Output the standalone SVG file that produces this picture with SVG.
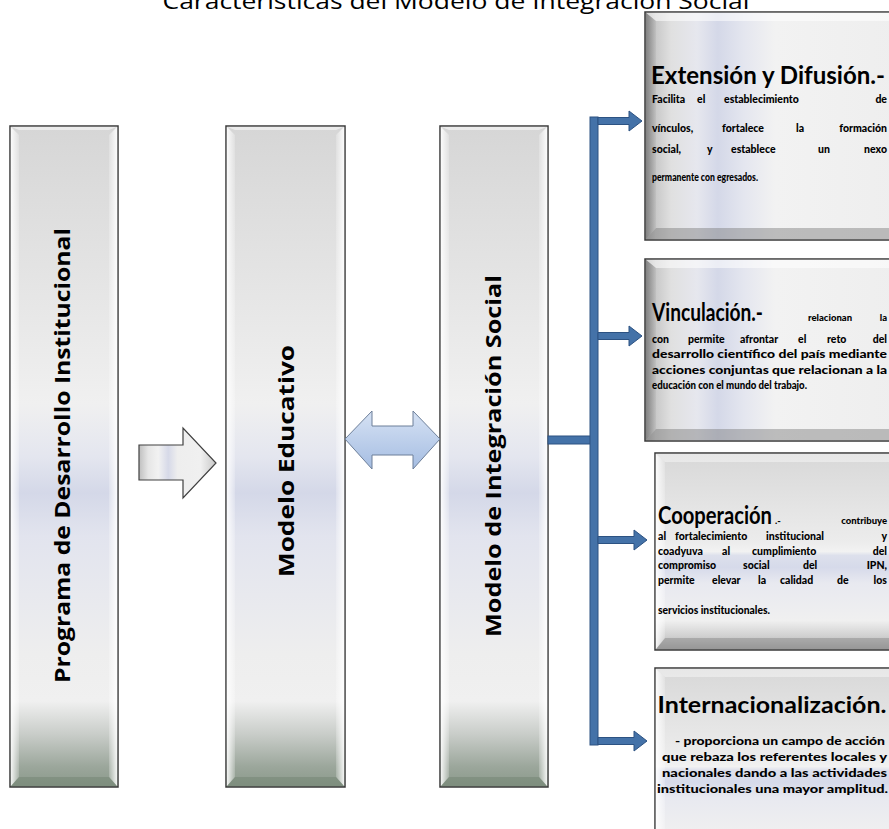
<svg xmlns="http://www.w3.org/2000/svg" width="889" height="829" viewBox="0 0 889 829">
<defs>
<style>
.bx{stroke:#3a3a3a;stroke-width:1.5}
.vt{font-family:"Open Sans","Liberation Sans",sans-serif;font-weight:700;font-size:22px;fill:#000}
.ti{font-family:"Open Sans","Liberation Sans",sans-serif;font-size:22px;fill:#000}
.h{font-family:Lato,"Liberation Sans",sans-serif;font-weight:700;fill:#000}
.b{font-family:Lato,"Liberation Sans",sans-serif;font-weight:900;font-size:10.5px;fill:#000}
.s{font-family:Lato,"Liberation Sans",sans-serif;font-weight:900;font-size:9.5px;fill:#000}
.e{text-anchor:end}
.bl{fill:#4472a8;stroke:#2c5282;stroke-width:1}
</style>
<linearGradient id="gV" x1="0" y1="0" x2="0" y2="1">
<stop offset="0" stop-color="#d6d6d6"/>
<stop offset="0.42" stop-color="#f0f0f0"/>
<stop offset="0.50" stop-color="#e4e6ef"/>
<stop offset="0.555" stop-color="#d4d8e8"/>
<stop offset="0.62" stop-color="#e2e4ee"/>
<stop offset="0.80" stop-color="#eeeeee"/>
<stop offset="0.87" stop-color="#f0f0f0"/>
<stop offset="0.92" stop-color="#c9cdc9"/>
<stop offset="0.97" stop-color="#9ba69b"/>
<stop offset="1" stop-color="#8a998a"/>
</linearGradient>
<linearGradient id="gC" x1="0" y1="0" x2="0" y2="1">
<stop offset="0" stop-color="#d8d8d8"/>
<stop offset="0.45" stop-color="#ececec"/>
<stop offset="0.50" stop-color="#f2f2f2"/>
<stop offset="0.52" stop-color="#dde0ec"/>
<stop offset="0.58" stop-color="#d6daea"/>
<stop offset="0.66" stop-color="#e8e9f0"/>
<stop offset="0.85" stop-color="#f0f0f0"/>
<stop offset="0.93" stop-color="#d0d0d0"/>
<stop offset="1" stop-color="#a8a8a8"/>
</linearGradient>
<linearGradient id="gH" x1="0" y1="0" x2="1" y2="0">
<stop offset="0" stop-color="#9c9c9c"/>
<stop offset="0.04" stop-color="#c8c8c8"/>
<stop offset="0.10" stop-color="#e0e0e0"/>
<stop offset="0.20" stop-color="#e6e7ee"/>
<stop offset="0.28" stop-color="#d4d8e8"/>
<stop offset="0.38" stop-color="#e4e6ef"/>
<stop offset="0.50" stop-color="#f2f2f2"/>
<stop offset="1" stop-color="#eeeeee"/>
</linearGradient>
<linearGradient id="gA" x1="0" y1="0" x2="1" y2="0">
<stop offset="0" stop-color="#bfbfbf"/>
<stop offset="0.12" stop-color="#e6e6e6"/>
<stop offset="0.25" stop-color="#f2f2f2"/>
<stop offset="0.38" stop-color="#d6d9e8"/>
<stop offset="0.50" stop-color="#eeeeee"/>
<stop offset="0.80" stop-color="#f0f0f0"/>
<stop offset="1" stop-color="#c8c8c8"/>
</linearGradient>
<linearGradient id="gD" x1="0" y1="0" x2="0" y2="1">
<stop offset="0" stop-color="#d6e2f4"/>
<stop offset="1" stop-color="#a5bde2"/>
</linearGradient>
<linearGradient id="gL" x1="0" y1="0" x2="1" y2="0">
<stop offset="0" stop-color="#ffffff" stop-opacity="0.9"/>
<stop offset="1" stop-color="#ffffff" stop-opacity="0.2"/>
</linearGradient>
<linearGradient id="gR" x1="0" y1="0" x2="1" y2="0">
<stop offset="0" stop-color="#ffffff" stop-opacity="0.2"/>
<stop offset="1" stop-color="#ffffff" stop-opacity="0.9"/>
</linearGradient>
<linearGradient id="gDL" x1="0" y1="0" x2="1" y2="0">
<stop offset="0" stop-color="#7a7a7a" stop-opacity="0.8"/>
<stop offset="1" stop-color="#9a9a9a" stop-opacity="0.2"/>
</linearGradient>
</defs>
<rect width="889" height="829" fill="#ffffff"/>

<text id="title" class="ti" x="456" y="9" text-anchor="middle" textLength="587" lengthAdjust="spacingAndGlyphs">Características del Modelo de Integración Social</text>

<g id="n1">
<rect class="bx" x="10" y="126" width="108" height="661" fill="url(#gV)"/>
<polygon points="10.8,126.8 19,135 19,777 10.8,786.2" fill="url(#gL)"/>
<polygon points="117.2,126.8 109,135 109,777 117.2,786.2" fill="url(#gR)"/>
<polygon points="10.8,126.8 117.2,126.8 109,130 19,130" fill="#ffffff" fill-opacity="0.5"/>
<polygon points="10.8,786.2 19,777 109,777 117.2,786.2" fill="#6f806f" fill-opacity="0.45"/>
<text class="vt" x="70" y="455.5" transform="rotate(-90 70 455.5)" text-anchor="middle" textLength="455" lengthAdjust="spacingAndGlyphs">Programa de Desarrollo Institucional</text>
</g>

<g id="n2">
<rect class="bx" x="226" y="126" width="119" height="661" fill="url(#gV)"/>
<polygon points="226.8,126.8 235,135 235,777 226.8,786.2" fill="url(#gL)"/>
<polygon points="344.2,126.8 336,135 336,777 344.2,786.2" fill="url(#gR)"/>
<polygon points="226.8,126.8 344.2,126.8 336,130 235,130" fill="#ffffff" fill-opacity="0.5"/>
<polygon points="226.8,786.2 235,777 336,777 344.2,786.2" fill="#6f806f" fill-opacity="0.45"/>
<text class="vt" x="293.5" y="461" transform="rotate(-90 293.5 461)" text-anchor="middle" textLength="232" lengthAdjust="spacingAndGlyphs">Modelo Educativo</text>
</g>

<g id="n3">
<rect class="bx" x="440" y="126" width="108" height="661" fill="url(#gV)"/>
<polygon points="440.8,126.8 449,135 449,777 440.8,786.2" fill="url(#gL)"/>
<polygon points="547.2,126.8 539,135 539,777 547.2,786.2" fill="url(#gR)"/>
<polygon points="440.8,126.8 547.2,126.8 539,130 449,130" fill="#ffffff" fill-opacity="0.5"/>
<polygon points="440.8,786.2 449,777 539,777 547.2,786.2" fill="#6f806f" fill-opacity="0.45"/>
<text class="vt" x="501" y="456" transform="rotate(-90 501 456)" text-anchor="middle" textLength="362" lengthAdjust="spacingAndGlyphs">Modelo de Integración Social</text>
</g>

<g id="n4">
<rect class="bx" x="645" y="12" width="260" height="228" fill="url(#gH)"/>
<polygon points="645.8,12.8 889,12.8 889,21 656,21" fill="#ffffff" fill-opacity="0.55"/>
<polygon points="645.8,239.2 656,228 889,228 889,239.2" fill="#7a7a7a" fill-opacity="0.45"/>
<polygon points="645.8,12.8 656,21 656,228 645.8,239.2" fill="url(#gDL)"/>
<text class="h" x="651" y="84" font-size="25" textLength="234" lengthAdjust="spacingAndGlyphs">Extensión y Difusión.-</text>
<text class="b" y="103"><tspan x="652">Facilita</tspan><tspan x="697">el</tspan><tspan x="724">establecimiento</tspan></text>
<text class="b e" x="887" y="103">de</text>
<text class="b" y="132"><tspan x="652">vínculos,</tspan><tspan x="722">fortalece</tspan><tspan x="796">la</tspan></text>
<text class="b e" x="887" y="132">formación</text>
<text class="b" y="153"><tspan x="652">social,</tspan><tspan x="707">y</tspan><tspan x="731">establece</tspan><tspan x="818">un</tspan></text>
<text class="b e" x="887" y="153">nexo</text>
<text class="b" x="652" y="181" textLength="106" lengthAdjust="spacingAndGlyphs">permanente con egresados.</text>
</g>

<g id="n5">
<rect class="bx" x="645" y="259" width="260" height="182" fill="url(#gH)"/>
<polygon points="645.8,259.8 889,259.8 889,268 656,268" fill="#ffffff" fill-opacity="0.55"/>
<polygon points="645.8,440.2 656,429 889,429 889,440.2" fill="#7a7a7a" fill-opacity="0.45"/>
<polygon points="645.8,259.8 656,268 656,429 645.8,440.2" fill="url(#gDL)"/>
<text class="h" x="652" y="321" font-size="24" textLength="111" lengthAdjust="spacingAndGlyphs">Vinculación.-</text>
<text class="s" x="808" y="321">relacionan</text>
<text class="s e" x="887" y="321">la</text>
<text class="b" y="343"><tspan x="652">con</tspan><tspan x="688">permite</tspan><tspan x="740">afrontar</tspan><tspan x="798">el</tspan><tspan x="827">reto</tspan></text>
<text class="b e" x="887" y="343">del</text>
<text class="b" x="652" y="358" textLength="235" lengthAdjust="spacingAndGlyphs">desarrollo científico del país mediante</text>
<text class="b" x="652" y="374" textLength="235" lengthAdjust="spacingAndGlyphs">acciones conjuntas que relacionan a la</text>
<text class="b" x="652" y="389" textLength="155" lengthAdjust="spacingAndGlyphs">educación con el mundo del trabajo.</text>
</g>

<g id="n6">
<rect class="bx" x="655" y="453" width="250" height="197" fill="url(#gC)"/>
<polygon points="655.8,453.8 889,453.8 889,462 665,462" fill="#ffffff" fill-opacity="0.4"/>
<polygon points="655.8,649.2 665,638 889,638 889,649.2" fill="#7a7a7a" fill-opacity="0.4"/>
<polygon points="655.8,453.8 665,462 665,638 655.8,649.2" fill="url(#gL)"/>
<text class="h" x="658" y="524" font-size="24" textLength="114" lengthAdjust="spacingAndGlyphs">Cooperación</text>
<text class="s" x="775" y="524">.-</text>
<text class="s e" x="887" y="524">contribuye</text>
<text class="b" y="540"><tspan x="658">al</tspan><tspan x="675">fortalecimiento</tspan><tspan x="766">institucional</tspan></text>
<text class="b e" x="887" y="540">y</text>
<text class="b" y="555"><tspan x="658">coadyuva</tspan><tspan x="722">al</tspan><tspan x="752">cumplimiento</tspan></text>
<text class="b e" x="887" y="555">del</text>
<text class="b" y="569"><tspan x="658">compromiso</tspan><tspan x="743">social</tspan><tspan x="803">del</tspan></text>
<text class="b e" x="887" y="569">IPN,</text>
<text class="b" y="584"><tspan x="658">permite</tspan><tspan x="712">elevar</tspan><tspan x="758">la</tspan><tspan x="780">calidad</tspan><tspan x="837">de</tspan></text>
<text class="b e" x="887" y="584">los</text>
<text class="b" x="658" y="614" textLength="112" lengthAdjust="spacingAndGlyphs">servicios institucionales.</text>
</g>

<g id="n7">
<rect class="bx" x="655" y="668" width="250" height="197" fill="url(#gC)"/>
<polygon points="655.8,668.8 889,668.8 889,677 665,677" fill="#ffffff" fill-opacity="0.4"/>
<polygon points="655.8,668.8 665,677 665,829 655.8,829" fill="url(#gL)"/>
<text class="h" x="772" y="713" font-size="23" text-anchor="middle" textLength="229" lengthAdjust="spacingAndGlyphs">Internacionalización.</text>
<text class="b" x="780" y="745" text-anchor="middle" textLength="210" lengthAdjust="spacingAndGlyphs">- proporciona un campo de acción</text>
<text class="b" x="774.5" y="761" text-anchor="middle" textLength="225" lengthAdjust="spacingAndGlyphs">que rebaza los referentes locales y</text>
<text class="b" x="774.5" y="777" text-anchor="middle" textLength="225" lengthAdjust="spacingAndGlyphs">nacionales dando a las actividades</text>
<text class="b" x="772.5" y="793" text-anchor="middle" textLength="231" lengthAdjust="spacingAndGlyphs">institucionales una mayor amplitud.</text>
</g>

<g id="connectors">
<polygon id="arrowGrey" points="139,445 183,445 183,428 216,463 183,498 183,480 139,480" fill="url(#gA)" stroke="#404040" stroke-width="1.2"/>
<polygon id="arrowDouble" points="345,439 372,411 372,426 413,426 413,411 440,439 413,469 413,455 372,455 372,469" fill="url(#gD)" stroke="#6d7f99" stroke-width="1"/>
<rect class="bl" x="548" y="436" width="45" height="8"/>
<rect class="bl" x="590" y="117" width="8" height="628"/>
<polygon class="bl" points="598,117.5 629,117.5 629,111 642,121 629,131 629,124.5 598,124.5"/>
<polygon class="bl" points="598,332.5 629,332.5 629,326 642,336 629,346 629,339.5 598,339.5"/>
<polygon class="bl" points="598,536.5 634,536.5 634,530 647,540 634,550 634,543.5 598,543.5"/>
<polygon class="bl" points="598,737.5 634,737.5 634,731 647,741 634,751 634,744.5 598,744.5"/>
</g>
</svg>
